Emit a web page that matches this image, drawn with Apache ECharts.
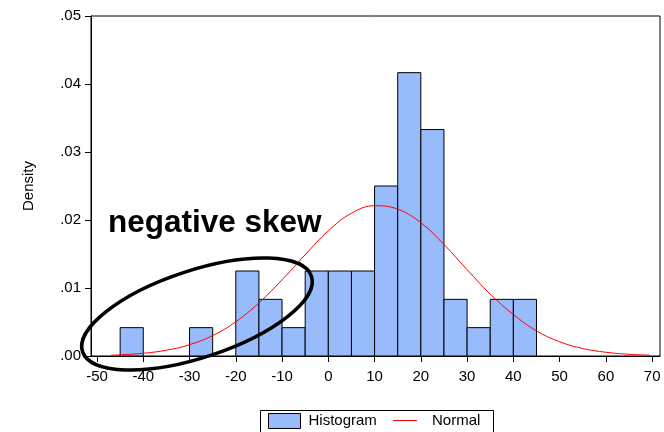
<!DOCTYPE html>
<html><head><meta charset="utf-8">
<script src="https://cdn.jsdelivr.net/npm/echarts@6/dist/echarts.min.js"></script>
<style>html,body{margin:0;padding:0;background:#fff}#c{width:664px;height:432px}</style>
</head><body><div id="c"></div>
<script>
// Histogram bins (start, end) and densities
const binStart = [-45,-40,-35,-30,-25,-20,-15,-10,-5,0,5,10,15,20,25,30,35,40];
const binEnd   = [-40,-35,-30,-25,-20,-15,-10,-5,0,5,10,15,20,25,30,35,40,45];
const density  = [0.00417,0,0,0.00417,0,0.0125,0.00833,0.00417,0.0125,0.0125,0.0125,0.025,0.04167,0.0333,0.00833,0.00417,0.00833,0.00833];
// Normal curve points
const normX = [-47,-45,-40,-35,-30,-25,-20,-15,-10,-5,0,5,10,15,20,25,30,35,40,45,50,55,60,65,69.5];
const normY = [0.00012,0.000175,0.0004,0.00085,0.00166,0.0030,0.00503,0.00781,0.0112,0.0149,0.0184,0.0210,0.0221,0.0216,0.0196,0.0164,0.0127,0.0091,0.0061,0.0037,0.0021,0.0011,0.00055,0.00025,0.00012];
const xTicks = [-50,-40,-30,-20,-10,0,10,20,30,40,50,60,70];
const yTicks = [0,0.01,0.02,0.03,0.04,0.05];

const FONT = 'Liberation Sans, Arial, sans-serif';
const FILL = '#98bbfc';
const chart = echarts.init(document.getElementById('c'), null, {renderer:'canvas'});
const histData = binStart.map((s,i)=>[s, binEnd[i], density[i]]).filter(d=>d[2]>0);
const normData = normX.map((x,i)=>[x, normY[i]]);

chart.setOption({
  animation:false,
  backgroundColor:'#fff',
  grid:{left:91,right:4,top:16,bottom:76,show:true,borderColor:'#000',borderWidth:1,backgroundColor:'transparent'},
  xAxis:{type:'value',min:-51.3,max:71.7,
    axisLine:{show:true,onZero:false,lineStyle:{color:'#000',width:1}},
    axisTick:{show:true,length:6,customValues:xTicks,lineStyle:{color:'#000'}},
    axisLabel:{customValues:xTicks,color:'#000',fontFamily:FONT,fontSize:15,margin:13},
    splitLine:{show:false}},
  yAxis:{type:'value',min:0,max:0.05,
    name:'Density',nameLocation:'middle',nameRotate:90,nameGap:55,
    nameTextStyle:{color:'#000',fontFamily:FONT,fontSize:15},
    axisLine:{show:true,onZero:false,lineStyle:{color:'#000',width:1}},
    axisTick:{show:true,length:6,customValues:yTicks,lineStyle:{color:'#000'}},
    axisLabel:{customValues:yTicks,color:'#000',fontFamily:FONT,fontSize:15,margin:10,
      formatter:v=>v.toFixed(2).replace(/^0/,'')},
    splitLine:{show:false}},
  legend:[
    {left:268,top:413,itemWidth:32,itemHeight:15,padding:0,selectedMode:false,
     textStyle:{color:'#000',fontFamily:FONT,fontSize:15,padding:[0,0,0,3]},
     data:[{name:'Histogram',icon:'rect',itemStyle:{color:FILL,borderColor:'#000',borderWidth:1}}]},
    {left:393,top:413,itemWidth:24,itemHeight:15,padding:0,selectedMode:false,
     textStyle:{color:'#000',fontFamily:FONT,fontSize:15,padding:[0,0,0,10]},
     data:[{name:'Normal',icon:'path://M0 7 L24 7 L24 8 L0 8 Z',itemStyle:{color:'#ff0000',borderWidth:0}}]}
  ],
  series:[
    {name:'Histogram',type:'custom',data:histData,
     itemStyle:{color:FILL,borderColor:'#000',borderWidth:1},
     renderItem:function(params,api){
       const p0 = api.coord([api.value(0), api.value(2)]);
       const p1 = api.coord([api.value(1), 0]);
       return {type:'rect',shape:{x:p0[0],y:p0[1],width:p1[0]-p0[0],height:p1[1]-p0[1]},
         style:{fill:FILL,stroke:'#000',lineWidth:1}};
     },
     encode:{x:[0,1],y:2}, z:2},
    {name:'Normal',type:'line',data:normData,smooth:0.4,symbol:'none',showSymbol:false,
     lineStyle:{color:'#ff0000',width:1},itemStyle:{color:'#ff0000'},z:3}
  ],
  graphic:[
    {type:'rect',left:258,top:408,shape:{width:233,height:23},style:{fill:'none',stroke:'#000',lineWidth:1},z:10},
    {type:'text',x:108,y:207,style:{text:'negative skew',font:'bold 31.5px '+FONT,fill:'#000'},z:10},
    {type:'ellipse',x:197,y:314,rotation:18.2*Math.PI/180,shape:{cx:0,cy:0,rx:120.5,ry:43.6},
     style:{fill:'none',stroke:'#000',lineWidth:3.5},z:11}
  ]
});
</script></body></html>
